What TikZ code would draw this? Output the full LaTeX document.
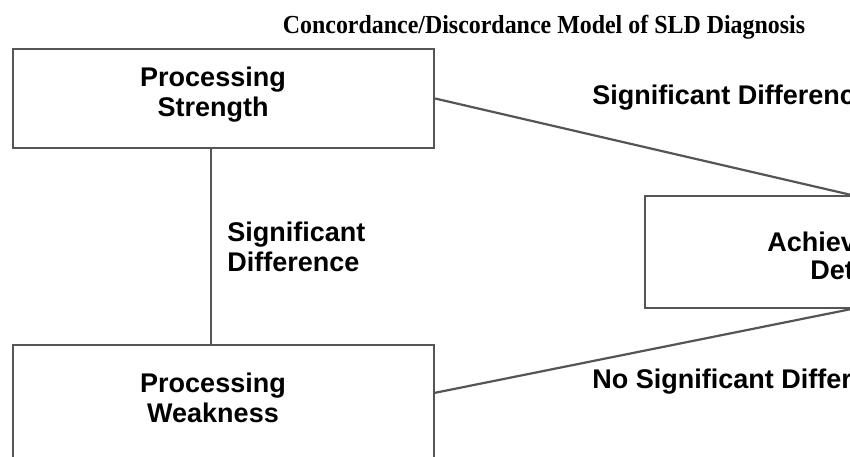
\documentclass[tikz,border=0pt]{standalone}
\usepackage{fontspec}
\setmainfont{Liberation Serif}
\newfontfamily\hv{Liberation Sans}
\definecolor{edge}{RGB}{85,85,85}
\tikzset{
  boxshape/.style={draw=edge, line width=1.1pt, rectangle, inner sep=0pt},
  conn/.style={draw=edge, line width=1.1pt},
  lbl/.style={font=\hv\bfseries\fontsize{13.5pt}{15pt}\selectfont, inner sep=0pt, text=black},
  ttl/.style={font=\bfseries\fontsize{13pt}{15pt}\selectfont, inner sep=0pt, text=black, xscale=0.92}
}
\begin{document}
\begin{tikzpicture}[x=0.5pt,y=-0.5pt]
\useasboundingbox (0,0) rectangle (850,456);
\clip (0,0) rectangle (850,456);
\fill[white] (0,0) rectangle (850,456);
% title
\node[ttl] (title) at (544,27) {Concordance/Discordance Model of SLD Diagnosis};
% boxes
\node[boxshape, minimum width=210.5pt, minimum height=49.5pt] (ps) at (223.5,98.5) {};
\node[boxshape, minimum width=210.5pt, minimum height=57.5pt] (pw) at (223.5,402.5) {};
\node[boxshape, minimum width=206pt, minimum height=56pt] (ad) at (851,252) {};
% box texts
\node[lbl, align=center] (pstext) at (213,95) {Processing\\Strength};
\node[lbl, align=center] (pwtext) at (213,398) {Processing\\Weakness};
\node[lbl, anchor=west] (adtext1) at (767,242) {Achiev};
\node[lbl, anchor=west] (adtext2) at (810,270) {Det};
% connectors
\coordinate (vx) at (211,0);
\coordinate (pwe) at (434,393);
\draw[conn] (ps.south -| vx) -- (pw.north -| vx);
\draw[conn] (ps.east) -- (ad.north);
\draw[conn] (pwe) -- (ad.south);
% connector labels
\node[lbl, anchor=west, align=left] (sdv) at (227,247) {Significant\\Difference};
\node[lbl, anchor=west] (sdu) at (592,98) {Significant Differenc};
\node[lbl, anchor=west] (nsd) at (592,382) {No Significant Differ};
\end{tikzpicture}
\end{document}
